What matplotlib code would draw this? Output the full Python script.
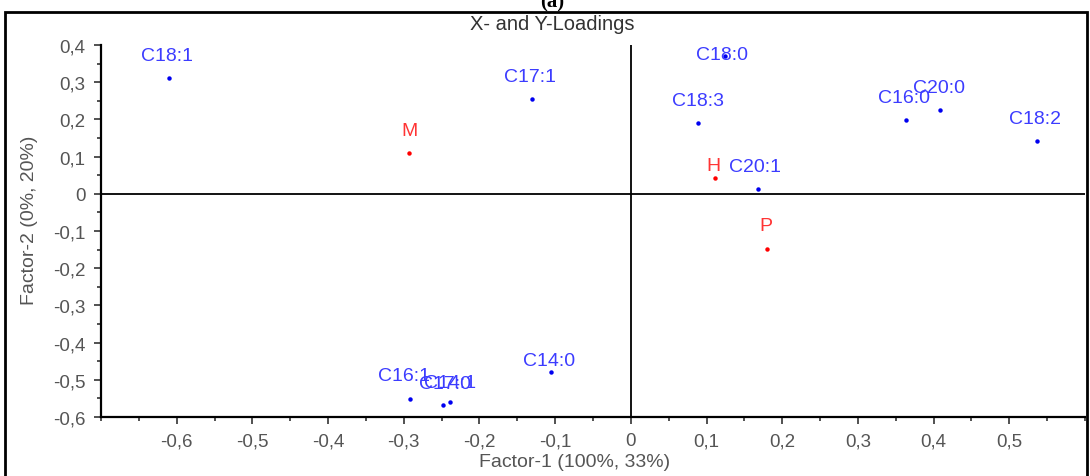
import matplotlib
matplotlib.use('Agg')
import matplotlib.pyplot as plt
from matplotlib.ticker import MultipleLocator, FuncFormatter
from matplotlib.patches import Rectangle

plt.rcParams['font.family'] = ['Liberation Sans', 'DejaVu Sans']

# X-loadings (fatty acids)
x_names = ['C18:1', 'C17:1', 'C16:1', 'C17:0', 'C14:1', 'C14:0', 'C18:0',
           'C18:3', 'C16:0', 'C20:0', 'C18:2', 'C20:1']
x_f1 = [-0.610, -0.131, -0.292, -0.248, -0.239, -0.106, 0.125,
        0.089, 0.363, 0.408, 0.536, 0.168]
x_f2 = [0.312, 0.255, -0.551, -0.567, -0.559, -0.478, 0.371,
        0.191, 0.199, 0.226, 0.142, 0.013]

# Y-loadings
y_names = ['M', 'H', 'P']
y_f1 = [-0.293, 0.111, 0.180]
y_f2 = [0.110, 0.043, -0.148]

# label offsets in pixels (dx, dy)
x_off = [(-2, 22), (-2, 22), (-6, 23), (2, 21), (0, 19), (-2, 11), (-3, 1),
         (0, 22), (-2, 22), (-1, 22), (-2, 22), (-3, 22)]
y_off = [(0, 22), (-1, 12), (-1, 23)]

blue = '#0000f0'
blue_txt = '#3c3cff'
red = '#ff0000'
red_txt = '#ff3434'

fig = plt.figure(figsize=(10.9, 4.77), dpi=100)
ax = fig.add_axes([101 / 1090, 59 / 477, 984 / 1090, 372 / 477])

ax.plot(x_f1, x_f2, 'o', color=blue, ms=3.2, mew=0)
ax.plot(y_f1, y_f2, 'o', color=red, ms=3.2, mew=0)
for n, a, b, o in zip(x_names, x_f1, x_f2, x_off):
    ax.annotate(n, (a, b), xytext=o, textcoords='offset pixels',
                ha='center', va='center', color=blue_txt, fontsize=14,
                annotation_clip=False)
for n, a, b, o in zip(y_names, y_f1, y_f2, y_off):
    ax.annotate(n, (a, b), xytext=o, textcoords='offset pixels',
                ha='center', va='center', color=red_txt, fontsize=14,
                annotation_clip=False)

ax.axhline(0, color='black', lw=1.3, zorder=1)
ax.axvline(0, color='black', lw=1.3, zorder=1)

ax.set_xlim(-0.7, 0.6)
ax.set_ylim(-0.6, 0.4)
for s in ['top', 'right']:
    ax.spines[s].set_visible(False)
for s in ['left', 'bottom']:
    ax.spines[s].set_linewidth(1.6)

ax.xaxis.set_major_locator(MultipleLocator(0.1))
ax.xaxis.set_minor_locator(MultipleLocator(0.05))
ax.yaxis.set_major_locator(MultipleLocator(0.1))
ax.yaxis.set_minor_locator(MultipleLocator(0.05))


def comma(v, pos):
    if abs(v) < 1e-9:
        return '0'
    return ('%.1f' % v).replace('.', ',')


ax.xaxis.set_major_formatter(FuncFormatter(comma))
ax.yaxis.set_major_formatter(FuncFormatter(comma))
ax.tick_params(which='major', length=5, width=1.2, color='#333333',
               labelsize=13.5, labelcolor='#555555', pad=6)
ax.tick_params(which='minor', length=3, width=1.2, color='#333333')
ax.set_xticks([t / 10 for t in range(-6, 6)])

fig.text(575 / 1090, 1 - 463 / 477, 'Factor-1 (100%, 33%)', ha='center', va='center',
         fontsize=14, color='#555555')
fig.text(30 / 1090, 1 - 220 / 477, 'Factor-2 (0%, 20%)', ha='center', va='center',
         rotation=90, fontsize=14, color='#555555')
fig.text(552 / 1090, 1 - 25 / 477, 'X- and Y-Loadings', ha='center', va='center',
         fontsize=14.5, color='#333333')
fig.text(552 / 1090, 1 - 2 / 477, '(a)', ha='center', va='center',
         fontsize=15, fontweight='bold', family='Liberation Serif')

fig.patches.append(Rectangle((5 / 1090, -0.02), 1082 / 1090, 1 - 13 / 477 + 0.02,
                             transform=fig.transFigure, fill=False,
                             edgecolor='black', lw=2))

fig.savefig('out.png', dpi=100)
